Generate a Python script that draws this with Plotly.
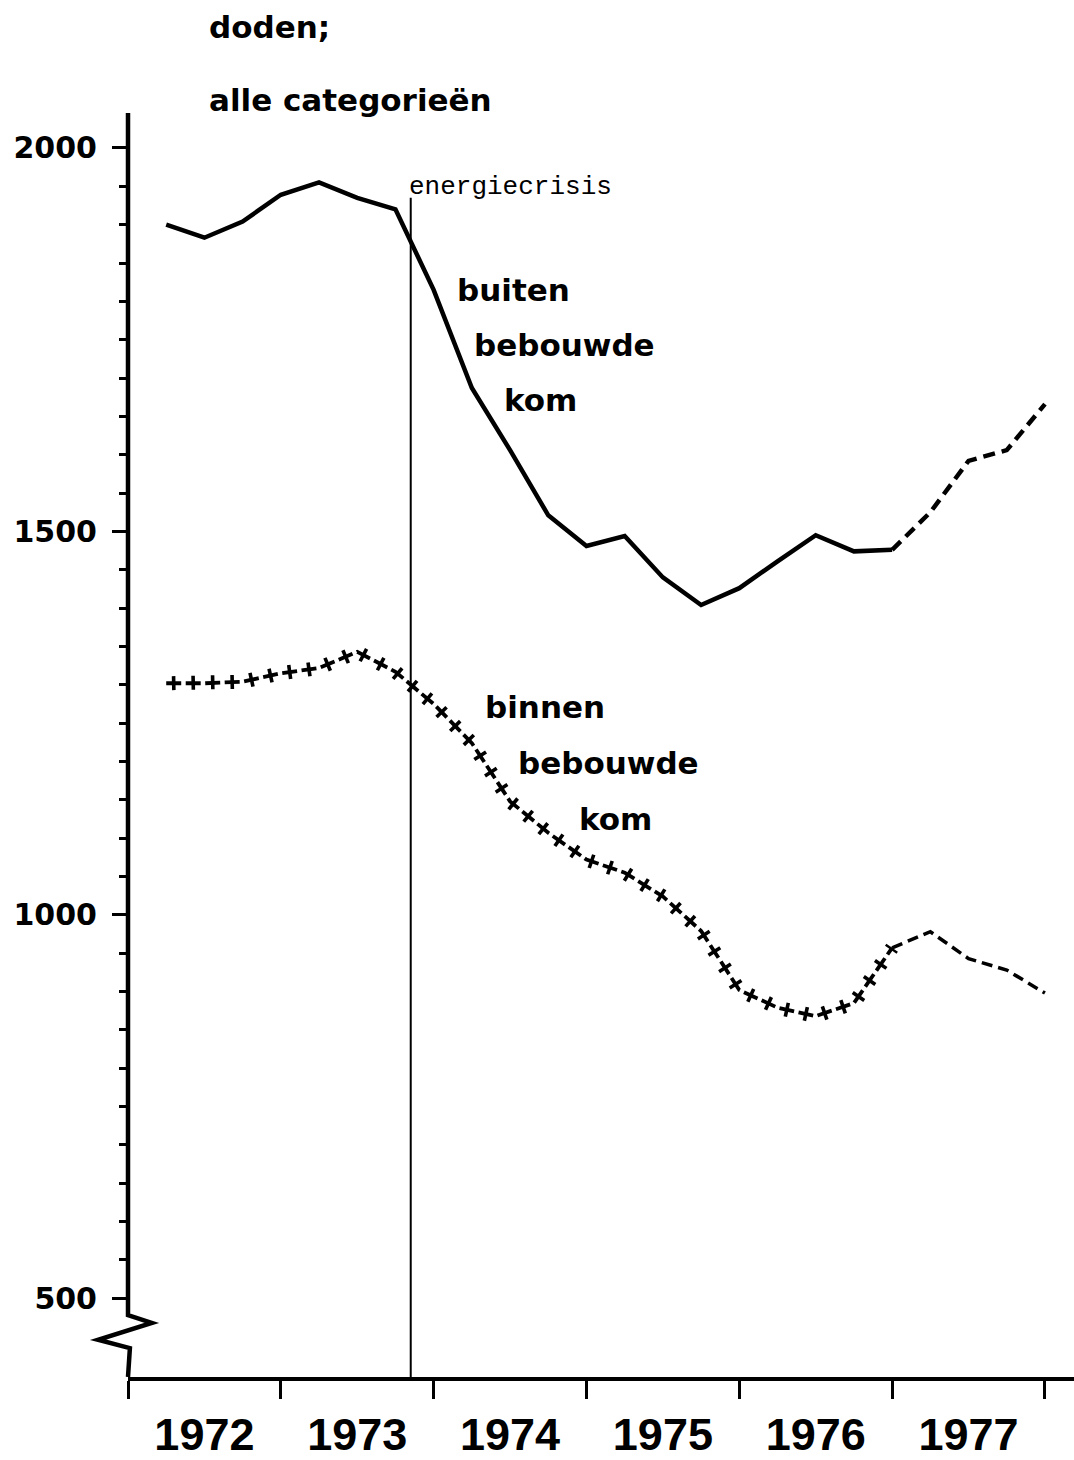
import plotly.graph_objects as go

# ---- data (12-month totals of road deaths, read per quarter) ----
quarters = [1972.25, 1972.5, 1972.75, 1973.0, 1973.25, 1973.5, 1973.75, 1974.0,
            1974.25, 1974.5, 1974.75, 1975.0, 1975.25, 1975.5, 1975.75, 1976.0,
            1976.25, 1976.5, 1976.75, 1977.0, 1977.25, 1977.5, 1977.75, 1978.0]
buiten = [1900, 1883, 1904, 1939, 1955, 1935, 1920, 1815,
          1687, 1606, 1521, 1481, 1494, 1440, 1404, 1426,
          1461, 1495, 1474, 1476, 1525, 1592, 1606, 1666]
binnen = [1302, 1302, 1304, 1315, 1322, 1343, 1317, 1275,
          1224, 1148, 1107, 1072, 1055, 1024, 979, 902,
          879, 868, 885, 957, 978, 943, 928, 898]
n_definitive = 20          # points up to 1977.0 are final, later ones provisional
crisis_date = 1973.85      # energiecrisis
year_ticks = [1972, 1973, 1974, 1975, 1976, 1977, 1978]
year_labels = ["1972", "1973", "1974", "1975", "1976", "1977"]
year_label_pos = [1972.5, 1973.5, 1974.5, 1975.5, 1976.5, 1977.5]
y_major = [500, 1000, 1500, 2000]
y_minor = [v for v in range(550, 2000, 50) if v not in y_major]

X_RANGE = [1972, 1978.19]
Y_RANGE = [397.4, 2045.6]

fig = go.Figure()

solid = slice(0, n_definitive)
prov = slice(n_definitive - 1, None)

# buiten bebouwde kom
fig.add_trace(go.Scatter(x=quarters[solid], y=buiten[solid], mode="lines",
                         line=dict(color="black", width=4.5), hoverinfo="skip"))
fig.add_trace(go.Scatter(x=quarters[prov], y=buiten[prov], mode="lines",
                         line=dict(color="black", width=4.5, dash="12px,7px"), hoverinfo="skip"))

# binnen bebouwde kom: cross pattern line (two dashed strokes forming crosses)
fig.add_trace(go.Scatter(x=quarters[solid], y=binnen[solid], mode="lines",
                         line=dict(color="black", width=3.8, dash="15px,4.5px"), hoverinfo="skip"))
fig.add_trace(go.Scatter(x=quarters[solid], y=binnen[solid], mode="lines",
                         line=dict(color="black", width=14, dash="0px,5.7px,3.6px,10.2px"), hoverinfo="skip"))
fig.add_trace(go.Scatter(x=quarters[prov], y=binnen[prov], mode="lines",
                         line=dict(color="black", width=3.5, dash="11px,6px"), hoverinfo="skip"))

# y axis line with break
top = Y_RANGE[1]
bot = Y_RANGE[0]
fig.add_shape(type="path", xref="paper", yref="y",
              path=f"M 0,{top} L 0,478 L 0.0251,468 L -0.0317,446 L 0.002,435 L 0,{bot}",
              line=dict(color="black", width=4.5))

# energiecrisis line
fig.add_shape(type="line", xref="x", yref="y", x0=crisis_date, x1=crisis_date,
              y0=bot, y1=1935, line=dict(color="black", width=2))
fig.add_annotation(x=crisis_date, y=1949, xref="x", yref="y", text="energiecrisis",
                   showarrow=False, xanchor="left", yanchor="middle", xshift=-4,
                   font=dict(family="Liberation Mono", size=26, color="black"))

lab_font = dict(family="DejaVu Sans", size=31, color="black", weight="bold")
for txt, x, y in [("buiten", 1974.14, 1815), ("bebouwde", 1974.25, 1743), ("kom", 1974.45, 1671),
                  ("binnen", 1974.32, 1271), ("bebouwde", 1974.54, 1198), ("kom", 1974.94, 1125)]:
    fig.add_annotation(x=x, y=y, xref="x", yref="y", text=txt, showarrow=False,
                       xanchor="left", yanchor="middle", font=lab_font)

# title lines
for txt, y in [("doden;", 1.068), ("alle categorieën", 1.0103)]:
    fig.add_annotation(x=0.0835, y=y, xref="paper", yref="paper", text=txt, showarrow=False,
                       xanchor="left", yanchor="middle", font=lab_font)

fig.update_layout(
    width=1074, height=1460,
    margin=dict(l=128, r=0, t=113, b=83),
    paper_bgcolor="white", plot_bgcolor="white",
    showlegend=False,
    xaxis=dict(range=X_RANGE, showgrid=False, zeroline=False, automargin=False,
               showline=True, linecolor="black", linewidth=3.5,
               tickmode="array", tickvals=year_label_pos, ticktext=year_labels,
               ticks="outside", ticklen=15, tickcolor="rgba(0,0,0,0)",
               tickfont=dict(family="Liberation Sans", size=45, color="black", weight="bold"),
               minor=dict(tickmode="array", tickvals=year_ticks, ticks="outside",
                          ticklen=18, tickwidth=3, tickcolor="black")),
    yaxis=dict(range=Y_RANGE, showgrid=False, zeroline=False, showline=False, automargin=False,
               tickmode="array", tickvals=y_major, ticktext=[str(v) for v in y_major],
               ticks="outside", ticklen=15, tickwidth=3, tickcolor="black",
               ticklabelstandoff=9,
               tickfont=dict(family="DejaVu Sans", size=30, color="black", weight="bold"),
               minor=dict(tickmode="array", tickvals=y_minor, ticks="outside",
                          ticklen=8, tickwidth=3, tickcolor="black")),
)

fig.write_html("out.html", config={"displayModeBar": False},
               post_script="document.body.style.margin='0px';")
